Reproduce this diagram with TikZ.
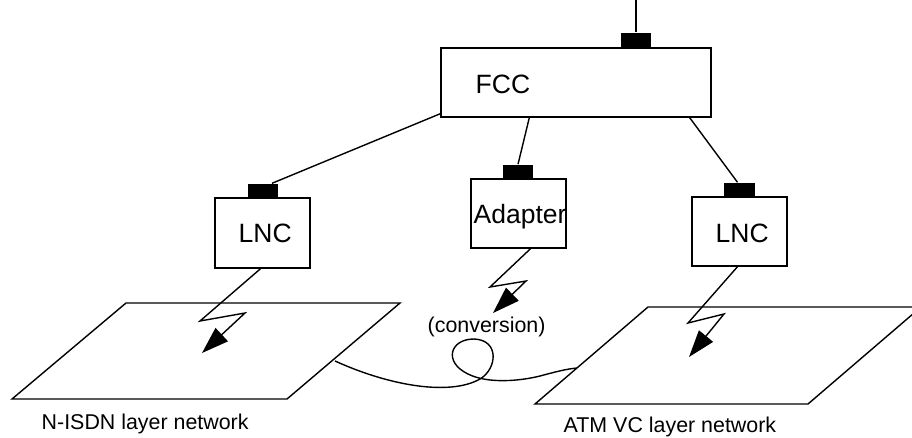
\documentclass[tikz,border=0pt]{standalone}
\usepackage{fontspec}
\setmainfont{Liberation Sans}
\usetikzlibrary{arrows.meta,calc}
\begin{document}
\begin{tikzpicture}[x=1pt,y=-1pt,line width=1.4pt,
  box/.style={draw,rectangle,inner sep=0pt,line width=1.4pt},
  port/.style={fill=black,draw=none,rectangle,inner sep=0pt,minimum width=30pt,minimum height=14pt},
  boxlabel/.style={anchor=base west,inner sep=0pt,font=\fontsize{26.5}{28}\selectfont},
  netlabel/.style={anchor=base west,inner sep=0pt,font=\fontsize{21.4}{24}\selectfont},
  bolt/.style={line width=1.4pt,line join=miter,-{Triangle[length=27pt,width=18pt]}},
  link/.style={line width=1.4pt},
  plane/.style={line width=1.4pt,line join=miter}]
\useasboundingbox (0,0) rectangle (912,437);
\clip (0,0) rectangle (912,437);

% --- managers ---
\node[box,minimum width=270pt,minimum height=69pt] (fcc) at (576,82.5) {};
\node[box,minimum width=95pt,minimum height=70pt] (lncL) at (262.5,233) {};
\node[box,minimum width=95pt,minimum height=69pt] (adapter) at (518.5,213.5) {};
\node[box,minimum width=95pt,minimum height=69pt] (lncR) at (739.5,231.5) {};

\node[boxlabel] (fccText) at (475,93) {FCC};
\node[boxlabel] (lncLText) at (238,242) {LNC};
\node[boxlabel] (adapterText) at (473,223) {Adapter};
\node[boxlabel] (lncRText) at (715,242) {LNC};

% --- ports ---
\node[port,minimum height=15pt] (portF) at (636,40.5) {};
\node[port] (portL) at (263,191) {};
\node[port] (portA) at (518,172) {};
\node[port,minimum width=31pt] (portR) at (739.5,190) {};

\coordinate (topEnd) at (636,0);
\draw[link] (portF.north) -- (topEnd);
\draw[link] ($(fcc.south west)+(0,-4)$) -- ($(portL.north)+(9,0)$);
\draw[link] ($(fcc.south west)+(89,0)$) -- (portA.north);
\draw[link] ($(fcc.south east)+(-22,0)$) -- ($(portR.north)+(-2,0)$);

% --- layer networks ---
\draw[plane] (12,399) -- (287,399) -- (400,303) -- (126,303) -- cycle;
\draw[plane] (535,404) -- (808,404) -- (921,307) -- (648,307) -- cycle;

\node[netlabel] (isdnText) at (41,429) {N-ISDN layer network};
\node[netlabel] (atmText) at (563,432) {ATM VC layer network};
\node[netlabel] (convText) at (427,332) {(conversion)};

% --- management flows ---
\coordinate (tipL) at (202,353);
\coordinate (tipA) at (493,313);
\coordinate (tipR) at (689,357);
\draw[bolt] ($(lncL.south)+(-2,0)$) -- (200,321) -- (245,313) -- (tipL);
\draw[bolt] ($(adapter.south)+(12,0)$) -- (490,287) -- (526,281) -- (tipA);
\draw[bolt] ($(lncR.south)+(-2,0)$) -- (688,323) -- (724,314) -- (tipR);

% --- interworking link with conversion loop ---
\coordinate (linkL) at (335,361);
\coordinate (linkR) at (577,368);
\draw[link] (linkL) .. controls (390,386) and (450,396) .. (480,379)
  .. controls (497,369) and (500,340) .. (474,339)
  .. controls (450,339) and (443,362) .. (468,374)
  .. controls (488,384) and (520,381) .. (540,376)
  .. controls (555,372) and (566,369) .. (linkR);
\end{tikzpicture}
\end{document}
